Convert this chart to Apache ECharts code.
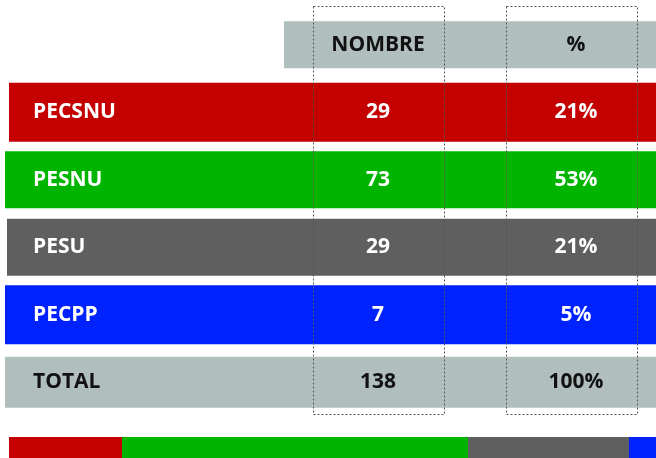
<!DOCTYPE html>
<html>
<head>
<meta charset="utf-8">
<script src="https://cdn.jsdelivr.net/npm/echarts@6/dist/echarts.min.js"></script>
<style>
  html, body { margin: 0; padding: 0; background: #fff; }
  #chart { width: 656px; height: 458px; }
</style>
</head>
<body>
<div id="chart"></div>
<script>
// table content
var headers = ["NOMBRE", "%"];
var categories = ["PECSNU", "PESNU", "PESU", "PECPP"];
var counts = [29, 73, 29, 7];
var percents = ["21%", "53%", "21%", "5%"];
var totalLabel = "TOTAL";
var totalCount = 138;
var totalPercent = "100%";
// bottom strip segments (widths)
var stripShares = [113, 346, 161, 27];

var rowColors = ["#b0bebe", "#c40000", "#00b400", "#5f5f5f", "#0022ff", "#b0bebe"];
var stripColors = ["#c40000", "#00b400", "#5f5f5f", "#0022ff"];

// layout (x in px units of the value axis)
var rowLeft = [284, 9, 5, 7, 5, 5];
var rowHeight = [47, 59, 57, 57, 59, 51];
var nameX = 33, countX = 378, pctX = 576;
var font = "'Open Sans', Lato, sans-serif";

var rows = ["head"].concat(categories, [totalLabel]);
var rowData = rows.map(function (r, i) {
  if (i === 0) return [i, "", headers[0], headers[1]];
  if (i === rows.length - 1) return [i, totalLabel, String(totalCount), totalPercent];
  return [i, categories[i - 1], String(counts[i - 1]), percents[i - 1]];
});

var chart = echarts.init(document.getElementById("chart"));

function txt(x, y, s, color, align) {
  return {
    type: "text",
    x: x, y: y,
    style: {
      text: s, fill: color, align: align, verticalAlign: "middle",
      font: "bold 21px " + font
    }
  };
}

var option = {
  animation: false,
  grid: [
    { left: 0, right: 0, top: 11, height: 405 },
    { left: 9, right: 0, top: 437, height: 21 }
  ],
  xAxis: [
    { gridIndex: 0, type: "value", min: 0, max: 656, show: false },
    { gridIndex: 1, type: "value", min: 0, max: 647, show: false }
  ],
  yAxis: [
    { gridIndex: 0, type: "category", data: rows, inverse: true, show: false },
    { gridIndex: 1, type: "category", data: ["s"], show: false }
  ],
  series: [{
    type: "custom",
    xAxisIndex: 0, yAxisIndex: 0,
    data: rowData,
    renderItem: function (params, api) {
      var i = api.value(0);
      var cy = api.coord([0, i])[1];
      var h = rowHeight[i];
      var x0 = api.coord([rowLeft[i], i])[0];
      var x1 = api.coord([656, i])[0];
      var dark = (i === 0 || i === rows.length - 1);
      var c = dark ? "#111" : "#fff";
      var d = rowData[i];
      return {
        type: "group",
        children: [
          { type: "rect", shape: { x: x0, y: cy - h / 2, width: x1 - x0, height: h },
            style: { fill: rowColors[i] } },
          txt(api.coord([nameX, i])[0], cy, d[1], c, "left"),
          txt(api.coord([countX, i])[0], cy, d[2], c, "center"),
          txt(api.coord([pctX, i])[0], cy, d[3], c, "center")
        ]
      };
    }
  }].concat(stripShares.map(function (v, k) {
    return {
      type: "bar", stack: "strip", xAxisIndex: 1, yAxisIndex: 1,
      barWidth: 21, data: [v], itemStyle: { color: stripColors[k] }
    };
  })),
  graphic: [
    { type: "rect", z: 100, shape: { x: 313.5, y: 6.5, width: 131, height: 408 },
      style: { fill: null, stroke: "#555", lineWidth: 1, lineDash: [2, 2] } },
    { type: "rect", z: 100, shape: { x: 506.5, y: 6.5, width: 131, height: 408 },
      style: { fill: null, stroke: "#555", lineWidth: 1, lineDash: [2, 2] } }
  ]
};

chart.setOption(option);
</script>
</body>
</html>
